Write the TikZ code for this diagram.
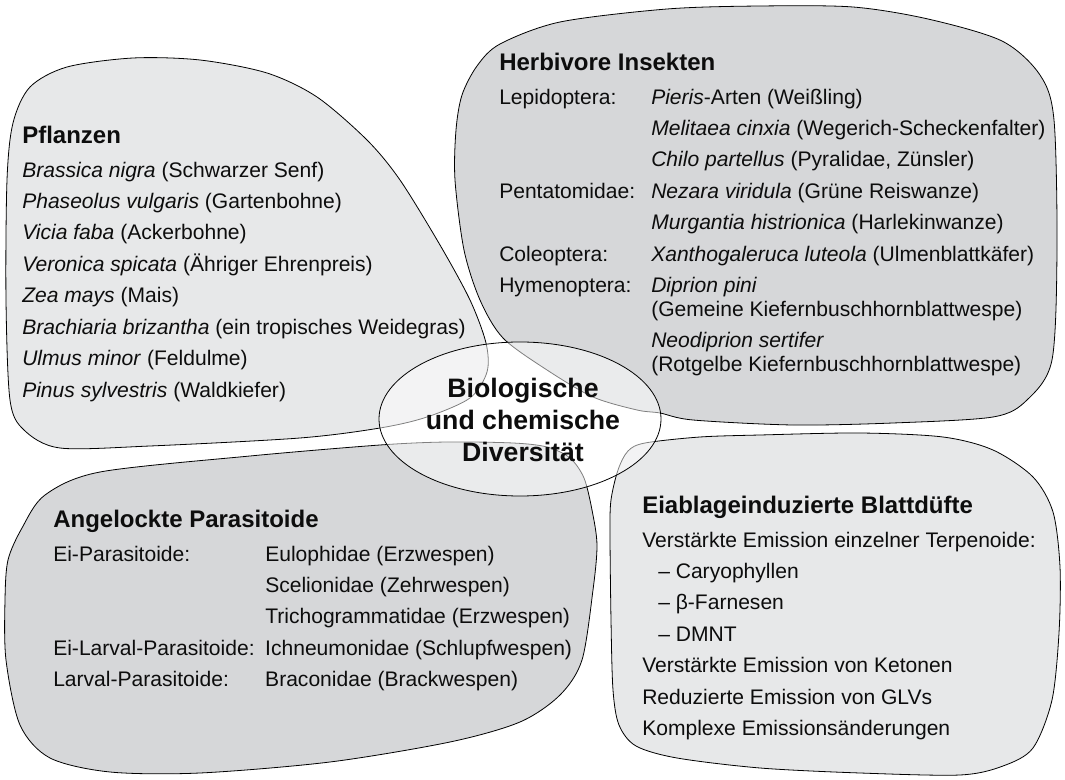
\documentclass[tikz,border=0pt]{standalone}
\usepackage{fontspec}
\setmainfont{Liberation Sans}
\definecolor{blobhell}{RGB}{231,232,233}
\definecolor{blobdunkel}{RGB}{214,215,217}
\newcommand\kopf[1]{{\bfseries\fontsize{18}{21}\selectfont #1}}
\begin{document}
\begin{tikzpicture}[x=0.75pt,y=-0.75pt,
    rand/.style={draw=black,line width=0.6pt},
    liste/.style={anchor=base west,inner sep=0pt,text=black!95,font=\fontsize{15.8}{23.6}\selectfont}]
    \useasboundingbox (0,0) rectangle (1065,780);

    \draw [rand,fill=blobhell] plot[smooth cycle] coordinates {(7,180) (13,123) (30,87) (67,67) (133,58) (200,60) (267,73) (317,97) (367,140) (400,180) (440,245) (470,300) (486,343) (487,372) (470,398) (427,417) (380,428) (300,438) (150,446) (60,448) (24,430) (10,400) (6,300)};
    \draw [rand,fill=blobdunkel] plot[smooth cycle] coordinates {(456,130) (462,95) (477,66) (500,44) (560,22) (667,9) (760,6) (853,7) (928,19) (1002,41) (1040,75) (1054,120) (1057,250) (1052,360) (1027,400) (993,417) (893,423) (793,425) (693,420) (660,413) (637,410) (593,397) (547,370) (503,338) (480,300) (464,250) (455,180)};
    \draw [rand,fill=blobdunkel] plot[smooth cycle] coordinates {(380,445) (447,442) (513,443) (547,447) (570,458) (584,478) (592,510) (597,545) (593,590) (582,660) (560,695) (520,722) (450,742) (330,762) (200,773) (110,772) (50,758) (20,725) (6,660) (5,600) (8,560) (22,528) (45,495) (100,472) (250,456)};
    \draw [rand,fill=blobhell] plot[smooth cycle] coordinates {(610,533) (611,500) (618,470) (628,451) (645,443) (700,437) (760,435) (860,433) (943,437) (993,450) (1033,477) (1053,512) (1060,567) (1059,633) (1052,700) (1033,748) (1003,766) (960,775) (860,773) (760,768) (677,758) (636,746) (619,725) (613,690) (611,620)};

    \node [liste] (pflanzen) at (22,144) {\begin{tabular}[t]{@{}l@{}}
        \kopf{Pflanzen}\\[1.2pt]
        \textit{Brassica nigra} (Schwarzer Senf)\\
        \textit{Phaseolus vulgaris} (Gartenbohne)\\
        \textit{Vicia faba} (Ackerbohne)\\
        \textit{Veronica spicata} (Ähriger Ehrenpreis)\\
        \textit{Zea mays} (Mais)\\
        \textit{Brachiaria brizantha} (ein tropisches Weidegras)\\
        \textit{Ulmus minor} (Feldulme)\\
        \textit{Pinus sylvestris} (Waldkiefer)
    \end{tabular}};

    \node [liste] (insekten) at (499,71) {\begin{tabular}[t]{@{}p{114pt}@{}l@{}}
        \multicolumn{2}{@{}l@{}}{\kopf{Herbivore Insekten}}\\[1.2pt]
        Lepidoptera: & \textit{Pieris}-Arten (Weißling)\\
        & \textit{Melitaea cinxia} (Wegerich-Scheckenfalter)\\
        & \textit{Chilo partellus} (Pyralidae, Zünsler)\\
        Pentatomidae: & \textit{Nezara viridula} (Grüne Reiswanze)\\
        & \textit{Murgantia histrionica} (Harlekinwanze)\\
        Coleoptera: & \textit{Xanthogaleruca luteola} (Ulmenblattkäfer)\\
        Hymenoptera: & \textit{Diprion pini}\\[-6pt]
        & (Gemeine Kiefernbuschhornblattwespe)\\
        & \textit{Neodiprion sertifer}\\[-6pt]
        & (Rotgelbe Kiefernbuschhornblattwespe)
    \end{tabular}};

    \node [liste] (parasit) at (53,528) {\begin{tabular}[t]{@{}p{159pt}@{}l@{}}
        \multicolumn{2}{@{}l@{}}{\kopf{Angelockte Parasitoide}}\\[1.2pt]
        Ei-Parasitoide: & Eulophidae (Erzwespen)\\
        & Scelionidae (Zehrwespen)\\
        & Trichogrammatidae (Erzwespen)\\
        Ei-Larval-Parasitoide: & Ichneumonidae (Schlupfwespen)\\
        Larval-Parasitoide: & Braconidae (Brackwespen)
    \end{tabular}};

    \node [liste] (duefte) at (642,514) {\begin{tabular}[t]{@{}l@{}}
        \kopf{Eiablageinduzierte Blattdüfte}\\[1.2pt]
        Verstärkte Emission einzelner Terpenoide:\\
        \hspace*{12pt}– Caryophyllen\\
        \hspace*{12pt}– β-Farnesen\\
        \hspace*{12pt}– DMNT\\
        Verstärkte Emission von Ketonen\\
        Reduzierte Emission von GLVs\\
        Komplexe Emissionsänderungen
    \end{tabular}};

    \draw [rand,fill=white,fill opacity=0.5] (520,419) ellipse [x radius=105.75pt, y radius=57.75pt];
    \node [align=center,inner sep=0pt,text=black!95,font=\bfseries\fontsize{20}{24}\selectfont] (mitte) at (523,420) {Biologische\\und chemische\\Diversität};
\end{tikzpicture}
\end{document}
